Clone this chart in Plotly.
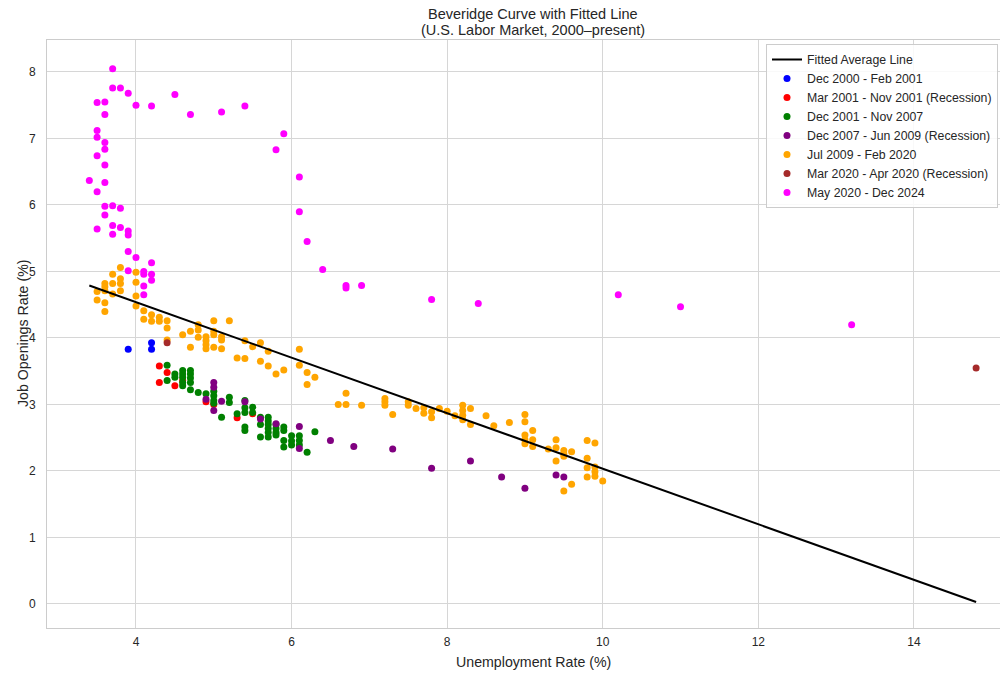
import plotly.graph_objects as go

# ---- Fitted average line (endpoints) ----
fit_x = [3.4, 14.8]
fit_y = [4.79, 0.03]

# ---- Dec 2000 - Feb 2001 ----
s1_x = [3.9, 4.2, 4.2]
s1_y = [3.83, 3.93, 3.83]

# ---- Mar 2001 - Nov 2001 (Recession) ----
s2_x = [4.3, 4.4, 4.3, 4.5, 4.6, 4.9, 5.0, 5.3, 5.5]
s2_y = [3.58, 3.48, 3.33, 3.28, 3.36, 3.04, 3.00, 2.80, 2.86]

# ---- Dec 2001 - Nov 2007 ----
s3_x = [4.4, 4.4, 4.5, 4.5, 4.6, 4.6, 4.6, 4.6, 4.6, 4.7, 4.7, 4.7, 4.7, 4.7,
        4.8, 4.9, 5.0, 5.0, 5.0, 5.0, 5.1, 5.2, 5.2, 5.3, 5.4, 5.4, 5.4, 5.4, 5.4,
        5.5, 5.5, 5.6, 5.6, 5.6, 5.7, 5.7, 5.7, 5.7, 5.7, 5.7, 5.8, 5.8, 5.8, 5.8,
        5.9, 5.9, 5.9, 5.9, 6.0, 6.0, 6.0, 6.1, 6.1, 6.1, 6.2, 6.3]
s3_y = [3.59, 3.36, 3.46, 3.41, 3.51, 3.46, 3.41, 3.33, 3.28, 3.51, 3.46, 3.40, 3.33, 3.22,
        3.18, 3.16, 3.20, 3.13, 3.06, 3.02, 2.81, 3.11, 3.03, 2.86, 3.06, 2.95, 2.88, 2.66, 2.61,
        2.96, 2.88, 2.81, 2.70, 2.51, 2.81, 2.75, 2.70, 2.64, 2.58, 2.51, 2.70, 2.64, 2.58, 2.54,
        2.66, 2.61, 2.46, 2.36, 2.53, 2.45, 2.39, 2.53, 2.46, 2.39, 2.28, 2.59]

# ---- Dec 2007 - Jun 2009 (Recession) ----
s4_x = [5.0, 5.0, 4.9, 5.1, 5.0, 5.4, 5.6, 5.8, 6.1, 6.1, 6.5, 6.8, 7.3, 7.8, 8.3, 8.7, 9.0, 9.4, 9.5]
s4_y = [3.33, 3.26, 3.08, 3.05, 2.91, 3.04, 2.78, 2.71, 2.67, 2.34, 2.46, 2.37, 2.33, 2.04, 2.15, 1.91, 1.74, 1.94, 1.91]

# ---- Jul 2009 - Feb 2020 ----
s5_x = [3.8, 3.7, 4.0, 3.6, 3.6, 3.6, 3.5, 3.5, 3.7, 3.7, 3.8, 3.8, 3.8, 3.6, 3.6,
        4.0, 4.0, 4.0, 4.1, 4.1, 4.2, 4.2, 4.3, 4.3, 4.4, 4.4, 4.4, 4.6, 4.7, 4.7,
        4.8, 4.8, 4.8, 4.9, 4.9, 4.9, 4.9, 5.0, 5.0, 5.0, 5.0, 5.1, 5.1, 5.1, 5.2,
        5.3, 5.4, 5.4, 5.5, 5.6, 5.6, 5.7, 5.7, 5.8, 5.9, 6.1, 6.1, 6.2, 6.2, 6.3,
        6.7, 6.6, 6.7, 6.9, 7.2, 7.2, 7.2, 7.3, 7.5, 7.5, 7.6, 7.7, 7.7, 7.8, 7.8,
        7.9, 8.0, 8.1, 8.2, 8.2, 8.2, 8.2, 8.3, 8.3, 8.5, 8.6, 8.8, 9.0, 9.0, 9.0,
        9.0, 9.0, 9.1, 9.1, 9.1, 9.3, 9.4, 9.4, 9.4, 9.5, 9.5, 9.5, 9.6, 9.8, 9.9,
        9.8, 9.8, 9.8, 9.9, 9.9, 9.9, 10.0, 9.5, 9.6]
s5_y = [5.06, 4.96, 4.99, 4.82, 4.77, 4.71, 4.70, 4.57, 4.82, 4.66, 4.89, 4.82, 4.71, 4.53, 4.40,
        4.84, 4.63, 4.48, 4.41, 4.28, 4.35, 4.25, 4.31, 4.25, 4.26, 4.15, 3.97, 4.05, 4.10, 3.86,
        4.20, 4.12, 4.01, 4.02, 3.96, 3.90, 3.84, 4.26, 4.10, 4.05, 3.86, 4.02, 3.97, 3.84, 4.26,
        3.70, 3.96, 3.69, 3.87, 3.93, 3.65, 3.80, 3.58, 3.46, 3.52, 3.83, 3.59, 3.48, 3.30, 3.41,
        3.17, 3.00, 3.00, 2.99, 3.09, 3.04, 2.99, 2.85, 3.04, 2.99, 2.94, 2.95, 2.87, 2.89, 2.80,
        2.94, 2.90, 2.83, 2.99, 2.91, 2.84, 2.77, 2.94, 2.70, 2.83, 2.68, 2.73, 2.85, 2.74, 2.54,
        2.47, 2.41, 2.61, 2.47, 2.37, 2.33, 2.47, 2.35, 2.15, 2.31, 2.26, 2.22, 2.29, 2.46, 2.42,
        2.19, 2.05, 1.91, 2.06, 1.99, 1.92, 1.85, 1.70, 1.80]

# ---- Mar 2020 - Apr 2020 (Recession) ----
s6_x = [4.4, 14.8]
s6_y = [3.93, 3.55]

# ---- May 2020 - Dec 2024 ----
s7_x = [13.2, 11.0, 10.2, 8.4, 7.8, 6.9, 6.7, 6.7, 6.4, 6.2, 6.1, 6.1, 5.8, 5.9,
        5.4, 5.1, 4.7, 4.5, 4.2, 4.0, 3.9, 3.8, 3.7, 3.7, 3.6, 3.5, 3.6,
        3.5, 3.5, 3.6, 3.6, 3.5, 3.6, 3.4, 3.6, 3.5, 3.6, 3.7, 3.8, 3.6,
        3.5, 3.7, 3.8, 3.7, 3.9, 3.9, 3.9, 4.0, 4.2, 3.9, 4.1, 4.1, 4.2, 4.2, 4.1, 4.1]
s7_y = [4.20, 4.47, 4.65, 4.52, 4.58, 4.79, 4.79, 4.75, 5.03, 5.45, 5.90, 6.42, 6.83, 7.07,
        7.49, 7.40, 7.36, 7.66, 7.49, 7.50, 7.68, 7.76, 7.76, 8.05, 7.55, 7.54, 7.36,
        7.12, 7.02, 6.94, 6.84, 6.74, 6.60, 6.37, 6.34, 6.20, 5.98, 5.99, 5.95, 5.85,
        5.64, 5.69, 5.66, 5.56, 5.61, 5.55, 5.30, 5.21, 5.13, 5.01, 5.00, 4.96, 4.96, 4.87, 4.78, 4.65]

series = [
    ("Dec 2000 - Feb 2001", s1_x, s1_y, "blue"),
    ("Mar 2001 - Nov 2001 (Recession)", s2_x, s2_y, "red"),
    ("Dec 2001 - Nov 2007", s3_x, s3_y, "green"),
    ("Dec 2007 - Jun 2009 (Recession)", s4_x, s4_y, "purple"),
    ("Jul 2009 - Feb 2020", s5_x, s5_y, "orange"),
    ("Mar 2020 - Apr 2020 (Recession)", s6_x, s6_y, "brown"),
    ("May 2020 - Dec 2024", s7_x, s7_y, "magenta"),
]

FONT = "Liberation Sans, Arial, Helvetica, sans-serif"
TXT = "#262626"

# The page body has an 8px margin, so the figure starts at (8, 8) in the window.
OFF = 8
W, H = 1008 - OFF, 675 - OFF
# plot area in window pixels: x 47..1008, y 40..628
PL, PR, PT, PB = 47, 1008, 40, 628
ML, MR, MT, MB = PL - OFF, (1008 - PR), PT - OFF, (675 - PB)
PW, PH = PR - PL, PB - PT


def px_x(p):
    return (p - PL) / PW


def px_y(p):
    return (PB - p) / PH


fig = go.Figure()
for i, (name, xs, ys, col) in enumerate(series):
    fig.add_trace(go.Scatter(
        x=xs, y=ys, mode="markers", name=name, legendrank=i + 2,
        marker=dict(color=col, size=7, line=dict(width=0)),
    ))

fig.add_trace(go.Scatter(
    x=fit_x, y=fit_y, mode="lines", name="Fitted Average Line", legendrank=1,
    line=dict(color="black", width=2),
))

fig.update_layout(
    width=W, height=H,
    margin=dict(l=ML, r=MR, t=MT, b=MB, autoexpand=False),
    paper_bgcolor="white", plot_bgcolor="white",
    font=dict(family=FONT, color=TXT, size=12),
    legend=dict(
        x=px_x(766), xanchor="left", y=px_y(44), yanchor="top",
        bgcolor="rgba(255,255,255,0.85)", bordercolor="#cccccc", borderwidth=1,
        font=dict(size=12.3, color=TXT, family=FONT),
        tracegroupgap=0, itemwidth=30,
    ),
    showlegend=True,
    annotations=[
        dict(text="Beveridge Curve with Fitted Line",
             xref="paper", yref="paper", x=px_x(533), y=px_y(14),
             xanchor="center", yanchor="middle", showarrow=False,
             font=dict(size=14.5, color=TXT, family=FONT)),
        dict(text="(U.S. Labor Market, 2000–present)",
             xref="paper", yref="paper", x=px_x(533), y=px_y(30),
             xanchor="center", yanchor="middle", showarrow=False,
             font=dict(size=14.5, color=TXT, family=FONT)),
        dict(text="Unemployment Rate (%)",
             xref="paper", yref="paper", x=px_x(533), y=px_y(662),
             xanchor="center", yanchor="middle", showarrow=False,
             font=dict(size=14.2, color=TXT, family=FONT)),
        dict(text="Job Openings Rate (%)", textangle=-90,
             xref="paper", yref="paper", x=px_x(23), y=px_y(334),
             xanchor="center", yanchor="middle", showarrow=False,
             font=dict(size=14.2, color=TXT, family=FONT)),
    ],
)

fig.update_xaxes(
    range=[2.856, 15.21], tickvals=[4, 6, 8, 10, 12, 14], automargin=False,
    showgrid=True, gridcolor="#d6d6d6", gridwidth=1,
    showline=True, linecolor="#cccccc", linewidth=1, mirror=True,
    zeroline=False, ticks="outside", ticklen=3, tickcolor="rgba(0,0,0,0)",
    tickfont=dict(size=12, color=TXT),
)
fig.update_yaxes(
    range=[-0.361, 8.481], tickvals=[0, 1, 2, 3, 4, 5, 6, 7, 8], automargin=False,
    showgrid=True, gridcolor="#d6d6d6", gridwidth=1,
    showline=True, linecolor="#cccccc", linewidth=1, mirror=True,
    zeroline=False, ticks="outside", ticklen=8, tickcolor="rgba(0,0,0,0)",
    tickfont=dict(size=12, color=TXT),
)

fig.write_html("out.html")
